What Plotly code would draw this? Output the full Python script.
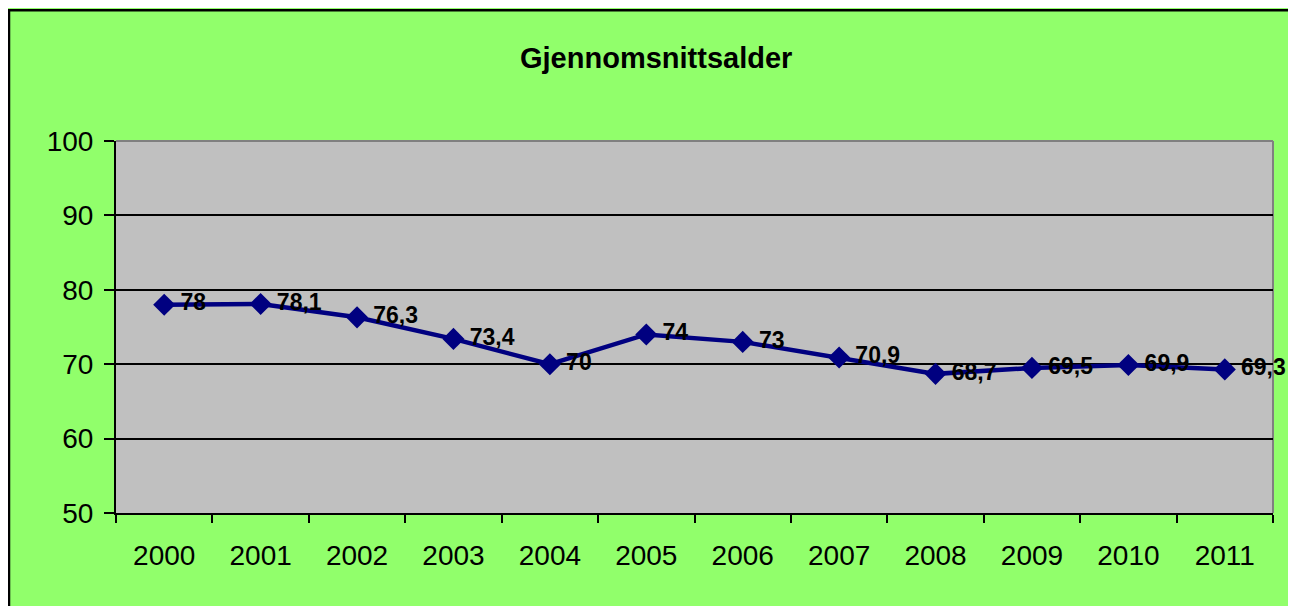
import plotly.graph_objects as go

years = ["2000", "2001", "2002", "2003", "2004", "2005", "2006", "2007", "2008", "2009", "2010", "2011"]
ages = [78, 78.1, 76.3, 73.4, 70, 74, 73, 70.9, 68.7, 69.5, 69.9, 69.3]
title_text = "Gjennomsnittsalder"

def fmt(v):
    s = ("%g" % v)
    return "\u2009" + s.replace(".", ",")

labels = [fmt(v) for v in ages]

# figure coordinates (page has an 8px body margin)
W, H = 1296, 606
L, R, T, B = 108, 31, 133, 101
PW, PH = W - L - R, H - T - B

def px(x):
    return (x - L) / PW

def py(y):
    return (H - B - y) / PH

FONT = "Liberation Sans, Arial, sans-serif"
GREEN = "#91FF6B"
GRAY = "#C0C0C0"
NAVY = "#000080"

fig = go.Figure()
fig.add_trace(go.Scatter(
    x=years, y=ages, text=labels,
    mode="lines+markers+text",
    textposition="middle right",
    textfont=dict(family=FONT, size=23, color="black", weight="bold"),
    line=dict(color=NAVY, width=4.5),
    marker=dict(symbol="diamond", size=17, color=NAVY),
    cliponaxis=False,
    showlegend=False,
))

shapes = [
    # chart border (left and top visible)
    dict(type="line", xref="paper", yref="paper", x0=px(1), x1=px(1), y0=py(1.5), y1=py(H + 20),
         line=dict(color="black", width=2.5), layer="above"),
    dict(type="line", xref="paper", yref="paper", x0=px(0), x1=px(W + 20), y0=py(2.3), y1=py(2.3),
         line=dict(color="black", width=2.5), layer="above"),
    # plot area border top/right
    dict(type="line", xref="paper", yref="paper", x0=0, x1=1, y0=1, y1=1,
         line=dict(color="#808080", width=2), layer="below"),
    dict(type="line", xref="paper", yref="paper", x0=1, x1=1, y0=0, y1=1,
         line=dict(color="#808080", width=2), layer="below"),
]

fig.update_layout(
    width=W, height=H,
    margin=dict(l=L, r=R, t=T, b=B),
    paper_bgcolor=GREEN,
    plot_bgcolor=GRAY,
    font=dict(family=FONT, color="black"),
    shapes=shapes,
    annotations=[dict(
        text="<b>" + title_text + "</b>", xref="paper", yref="paper",
        x=px(648), y=py(50), xanchor="center", yanchor="middle",
        showarrow=False, font=dict(family=FONT, size=29, color="black"),
    )],
    xaxis=dict(
        type="category", tickson="boundaries",
        range=[-0.5, len(years) - 0.5], autorange=False,
        showline=True, linecolor="black", linewidth=2,
        ticks="outside", ticklen=8, tickwidth=2, tickcolor="black",
        showgrid=False, tickfont=dict(size=28, family=FONT),
        ticklabelstandoff=16,
    ),
    yaxis=dict(
        range=[50, 100], dtick=10, tick0=50,
        showline=True, linecolor="black", linewidth=2,
        ticks="outside", ticklen=10, tickwidth=2, tickcolor="black",
        showgrid=True, gridcolor="black", gridwidth=2,
        zeroline=False, tickfont=dict(size=28, family=FONT),
        ticklabelstandoff=5,
    ),
)

fig.write_html("out.html")
